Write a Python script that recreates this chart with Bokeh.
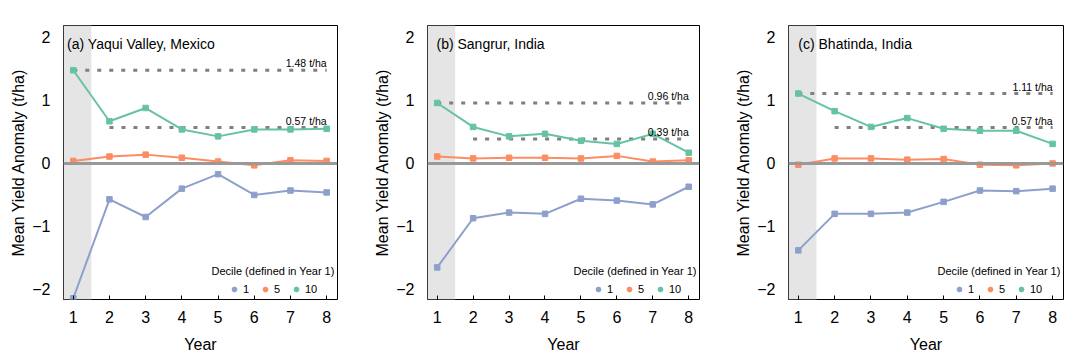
from bokeh.plotting import figure
from bokeh.layouts import row
from bokeh.models import BoxAnnotation, Span, Label, Legend, LegendItem, Range1d, FixedTicker
from bokeh.embed import file_html
from bokeh.resources import INLINE

# ---------------- data ----------------
years = [1, 2, 3, 4, 5, 6, 7, 8]
deciles = ["1", "5", "10"]
decile_colors = ["#8DA0CB", "#FC8D62", "#66C2A5"]
panel_titles = ["(a) Yaqui Valley, Mexico", "(b) Sangrur, India", "(c) Bhatinda, India"]

yaqui_d1 = [-2.14, -0.57, -0.85, -0.40, -0.17, -0.50, -0.43, -0.46]
yaqui_d5 = [0.04, 0.11, 0.14, 0.09, 0.03, -0.03, 0.05, 0.04]
yaqui_d10 = [1.48, 0.67, 0.88, 0.54, 0.43, 0.54, 0.54, 0.55]

sangrur_d1 = [-1.65, -0.87, -0.78, -0.80, -0.56, -0.59, -0.65, -0.37]
sangrur_d5 = [0.11, 0.08, 0.09, 0.09, 0.08, 0.12, 0.03, 0.05]
sangrur_d10 = [0.96, 0.58, 0.43, 0.47, 0.36, 0.31, 0.47, 0.17]

bhatinda_d1 = [-1.38, -0.80, -0.80, -0.78, -0.61, -0.43, -0.44, -0.40]
bhatinda_d5 = [-0.02, 0.08, 0.08, 0.06, 0.07, -0.02, -0.03, 0.00]
bhatinda_d10 = [1.11, 0.83, 0.58, 0.72, 0.55, 0.52, 0.52, 0.31]

yaqui_ref = [1.48, 0.57]
sangrur_ref = [0.96, 0.39]
bhatinda_ref = [1.11, 0.57]
ref_start_year = [1, 2]

y_ticks = [-2, -1, 0, 1, 2]

panels = [
    (panel_titles[0], [yaqui_d1, yaqui_d5, yaqui_d10], yaqui_ref),
    (panel_titles[1], [sangrur_d1, sangrur_d5, sangrur_d10], sangrur_ref),
    (panel_titles[2], [bhatinda_d1, bhatinda_d5, bhatinda_d10], bhatinda_ref),
]

FONT = "Liberation Sans"
widths = [360, 360, 360]
borders_left = [63, 67, 68]
borders_right = [23, 21, 17]
title_x = [0.83, 0.98, 1.0]

figs = []
for i, (title, series, refs) in enumerate(panels):
    p = figure(width=widths[i], height=355, output_backend="svg", toolbar_location=None,
               x_range=Range1d(0.73, 8.3), y_range=Range1d(-2.16, 2.19),
               min_border_left=borders_left[i], min_border_right=borders_right[i],
               min_border_top=25, min_border_bottom=56)
    p.background_fill_color = "white"
    p.border_fill_color = "white"
    p.outline_line_color = "black"
    p.outline_line_width = 1
    p.outline_line_alpha = 1
    p.xgrid.visible = False
    p.ygrid.visible = False

    # axes
    p.xaxis.ticker = FixedTicker(ticks=years)
    p.yaxis.ticker = FixedTicker(ticks=y_ticks)
    p.xaxis.axis_label = "Year"
    p.yaxis.axis_label = "Mean Yield Anomaly (t/ha)"
    for ax in (p.xaxis[0], p.yaxis[0]):
        ax.axis_line_color = None
        ax.minor_tick_line_color = None
        ax.major_label_text_font = FONT
        ax.major_label_text_font_size = "16px"
        ax.major_label_text_color = "black"
        ax.axis_label_text_font = FONT
        ax.axis_label_text_font_size = "16px"
        ax.axis_label_text_font_style = "normal"
        ax.axis_label_text_color = "black"
    p.xaxis.major_tick_in = 4
    p.xaxis.major_tick_out = 0
    p.xaxis.major_tick_line_color = "black"
    p.xaxis.major_label_standoff = 11
    p.xaxis.axis_label_standoff = 10
    p.yaxis.major_tick_in = 0
    p.yaxis.major_tick_out = 0
    p.yaxis.major_tick_line_color = None
    p.yaxis.major_label_standoff = 13
    p.yaxis.axis_label_standoff = 2

    # year-1 shading
    p.add_layout(BoxAnnotation(right=years[0] + 0.5, fill_color="#E5E5E5", fill_alpha=1,
                               line_color=None, level="underlay"))

    # reference dotted lines
    for v, ys in zip(refs, ref_start_year):
        p.line(x=[ys, years[-1]], y=[v, v], line_color="#7F7F7F", line_width=3,
               line_dash="4 8")

    # series
    for vals, col in zip(series, decile_colors):
        p.line(x=years, y=vals, line_color=col, line_width=2)
        p.scatter(x=years, y=vals, marker="square", size=5.5, color=col)

    # zero line
    p.add_layout(Span(location=0, dimension="width", line_color="#999999", line_width=3))

    # reference labels
    for v in refs:
        p.add_layout(Label(x=years[-1], y=v, text=f"{v:.2f} t/ha", text_align="right",
                           text_baseline="bottom", y_offset=1, text_font=FONT,
                           text_font_size="10.5px", text_color="black"))

    # panel title
    p.add_layout(Label(x=title_x[i], y=1.9, text=title, text_align="left",
                       text_baseline="middle", text_font=FONT, text_font_size="14px",
                       text_color="black"))

    # legend
    items = []
    for lab, col in zip(deciles, decile_colors):
        r = p.scatter(x=[float("nan")], y=[float("nan")], marker="circle", color=col)
        items.append(LegendItem(label=lab, renderers=[r]))
    leg = Legend(items=items, orientation="horizontal", location=(165, 4),
                 glyph_width=12, glyph_height=12, label_standoff=3, spacing=9,
                 label_width=7, label_height=12,
                 padding=0, margin=0, border_line_color=None, background_fill_alpha=0,
                 label_text_font=FONT, label_text_font_size="11px", label_text_color="black")
    p.add_layout(leg)
    p.add_layout(Label(x=8.22, y=-1.71, text="Decile (defined in Year 1)", text_align="right",
                       text_baseline="middle", text_font=FONT, text_font_size="11px",
                       text_color="black"))
    figs.append(p)

layout = row(*figs, spacing=0)
open("out.html", "w").write(file_html(layout, INLINE))
